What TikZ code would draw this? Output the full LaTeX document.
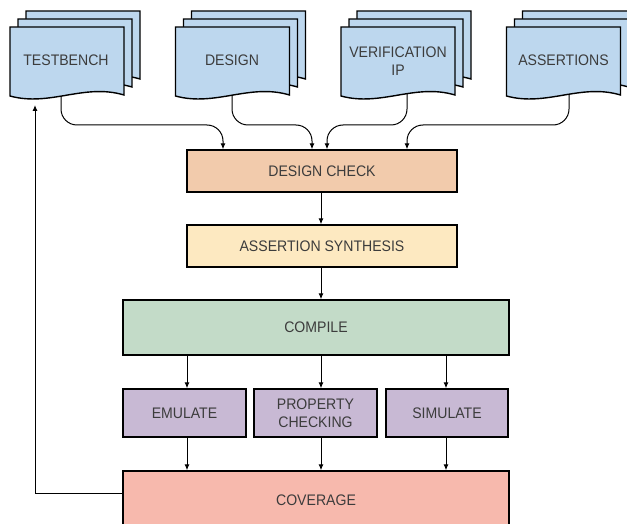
\documentclass[tikz,border=0pt]{standalone}
\usepackage{fontspec}
\setmainfont{Liberation Sans}[FakeStretch=0.92]
\usetikzlibrary{arrows.meta,calc}
\definecolor{docblue}{HTML}{BDD7EE}
\definecolor{checkfill}{HTML}{F2CBAC}
\definecolor{synthfill}{HTML}{FDE9C1}
\definecolor{compfill}{HTML}{C3DBC8}
\definecolor{runfill}{HTML}{C8B9D4}
\definecolor{covfill}{HTML}{F7B9AD}
\definecolor{txt}{HTML}{3C3C3C}
\newcommand\docpagedraw[2]{%
  \begin{scope}[shift={(#1,#2)}]
    \filldraw[docpage] (0,0) -- (114,0) -- (114,68) .. controls (74,56) and (40,80) .. (0,69) -- cycle;
  \end{scope}}
\newcommand\docstackdraw[1]{%
  \docpagedraw{#1+16}{11}\docpagedraw{#1+8}{19}\docpagedraw{#1}{27}}
\begin{document}
\begin{tikzpicture}[x=1pt,y=-1pt,
  font=\fontsize{15.3}{18.5}\selectfont,
  docpage/.style={fill=docblue,draw=black,line width=1.4pt,line join=miter},
  doctext/.style={text=txt,align=center,inner sep=0pt},
  box/.style={draw=black,line width=1.4pt,text=txt,align=center,inner sep=0pt},
  conn/.style={line width=1pt,-{Latex[length=6pt,width=5pt]}},
  ]
\useasboundingbox (0,0) rectangle (627,524);
\clip (0,0) rectangle (627,524);
% process boxes
\node[box,fill=checkfill,minimum width=270pt,minimum height=42pt] (dc) at (322,171) {DESIGN CHECK};
\node[box,fill=synthfill,minimum width=270pt,minimum height=42pt] (as) at (322,246) {ASSERTION SYNTHESIS};
\node[box,fill=compfill,minimum width=386pt,minimum height=55pt] (cmp) at (316,327.5) {COMPILE};
\node[box,fill=runfill,minimum width=123pt,minimum height=48pt] (em) at (184.5,413) {EMULATE};
\node[box,fill=runfill,minimum width=123pt,minimum height=48pt] (pc) at (315.5,413) {PROPERTY\\CHECKING};
\node[box,fill=runfill,minimum width=122pt,minimum height=48pt] (sim) at (447,413) {SIMULATE};
\node[box,fill=covfill,minimum width=386pt,minimum height=58pt] (cov) at (316,500) {COVERAGE};
% connector end points on documents
\coordinate (tb-out) at (61,92);
\coordinate (de-out) at (232,92);
\coordinate (vi-out) at (407,92);
\coordinate (sa-out) at (569,92);
\coordinate (tb-in) at (35,105);
\coordinate (c1) at (187,0);
\coordinate (c2) at (321,0);
\coordinate (c3) at (446,0);
% document connectors
\draw[conn,rounded corners=16pt] (tb-out) |- (223,125) -- (dc.north -| 223,0);
\draw[conn,rounded corners=16pt] (de-out) |- (312,125) -- (dc.north -| 312,0);
\draw[conn,rounded corners=16pt] (vi-out) |- (327,125) -- (dc.north -| 327,0);
\draw[conn,rounded corners=16pt] (sa-out) |- (407,125) -- (dc.north -| 407,0);
% flow
\draw[conn] (dc.south -| c2) -- (as.north -| c2);
\draw[conn] (as.south -| c2) -- (cmp.north -| c2);
\draw[conn] (cmp.south -| c1) -- (em.north -| c1);
\draw[conn] (cmp.south -| c2) -- (pc.north -| c2);
\draw[conn] (cmp.south -| c3) -- (sim.north -| c3);
\draw[conn] (em.south -| c1) -- (cov.north -| c1);
\draw[conn] (pc.south -| c2) -- (cov.north -| c2);
\draw[conn] (sim.south -| c3) -- (cov.north -| c3);
\draw[conn] ([yshift=7pt]cov.west) -| (tb-in);
% documents
\docstackdraw{10}
\docstackdraw{175.5}
\docstackdraw{341}
\docstackdraw{506.5}
\node[doctext] (tb) at (66,60) {TESTBENCH};
\node[doctext] (de) at (232,60) {DESIGN};
\node[doctext] (vi) at (398,61) {VERIFICATION\\IP};
\node[doctext] (sa) at (563.5,60) {ASSERTIONS};
\end{tikzpicture}
\end{document}
